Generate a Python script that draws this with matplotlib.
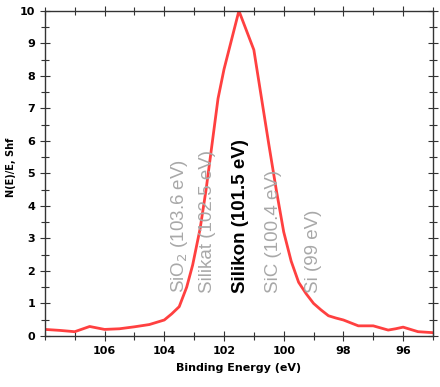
import matplotlib
matplotlib.use("Agg")
import matplotlib.pyplot as plt
from matplotlib.ticker import MultipleLocator

# Spectrum
energy = [108.0, 107.5, 107.0, 106.5, 106.0, 105.5, 105.0, 104.5, 104.0, 103.75,
          103.5, 103.25, 103.05, 102.8, 102.6, 102.4, 102.2, 102.0, 101.75, 101.5,
          101.25, 101.0, 100.5, 100.25, 100.0, 99.75, 99.5, 99.25, 99.0, 98.75,
          98.5, 98.25, 98.0, 97.75, 97.5, 97.0, 96.5, 96.25, 96.0, 95.75, 95.5, 95.0]
counts = [0.2, 0.17, 0.13, 0.29, 0.2, 0.22, 0.28, 0.35, 0.49, 0.68,
          0.9, 1.5, 2.18, 3.3, 4.5, 5.9, 7.3, 8.2, 9.1, 10.0,
          9.4, 8.8, 5.9, 4.5, 3.2, 2.3, 1.65, 1.3, 1.0, 0.8,
          0.62, 0.55, 0.49, 0.4, 0.31, 0.31, 0.18, 0.22, 0.27, 0.2, 0.13, 0.1]

peak_names = ["SiO$_2$ (103.6 eV)", "Silikat (102.5 eV)", "Silikon (101.5 eV)",
              "SiC (100.4 eV)", "Si (99 eV)"]
peak_pos = [103.5, 102.55, 101.45, 100.35, 99.0]
peak_bold = [False, False, True, False, False]

fig = plt.figure(figsize=(4.4, 3.87), dpi=100)
ax = fig.add_axes([0.102, 0.132, 0.882, 0.840])

ax.plot(energy, counts, color="#ff4040", lw=2)

ax.set_xlim(108, 95)
ax.set_ylim(0, 10)

ax.xaxis.set_major_locator(MultipleLocator(2))
ax.xaxis.set_minor_locator(MultipleLocator(1))
ax.yaxis.set_major_locator(MultipleLocator(1))
ax.yaxis.set_minor_locator(MultipleLocator(0.5))
ax.set_xticks([106, 104, 102, 100, 98, 96])

ax.tick_params(which="both", direction="inout", top=True, right=True,
               width=0.8, color="#333333")
ax.tick_params(which="major", length=7)
ax.tick_params(which="minor", length=6)
for lab in ax.get_xticklabels() + ax.get_yticklabels():
    lab.set_fontsize(8)
    lab.set_fontweight("bold")
for sp in ax.spines.values():
    sp.set_color("#333333")
    sp.set_linewidth(1.0)

ax.set_xlabel("Binding Energy (eV)", fontsize=8, fontweight="bold", labelpad=5)
ax.set_ylabel("N(E)/E, Shf", fontsize=7, fontweight="bold")
ax.yaxis.set_label_coords(-0.075, 0.52)

for name, pos, bold in zip(peak_names, peak_pos, peak_bold):
    ax.text(pos, 1.32, name, rotation=90, ha="center", va="bottom",
            fontsize=13.5, family="Liberation Sans",
            color="black" if bold else "#a8a8a8",
            fontweight="bold" if bold else "normal")

fig.savefig("out.png", dpi=100)
